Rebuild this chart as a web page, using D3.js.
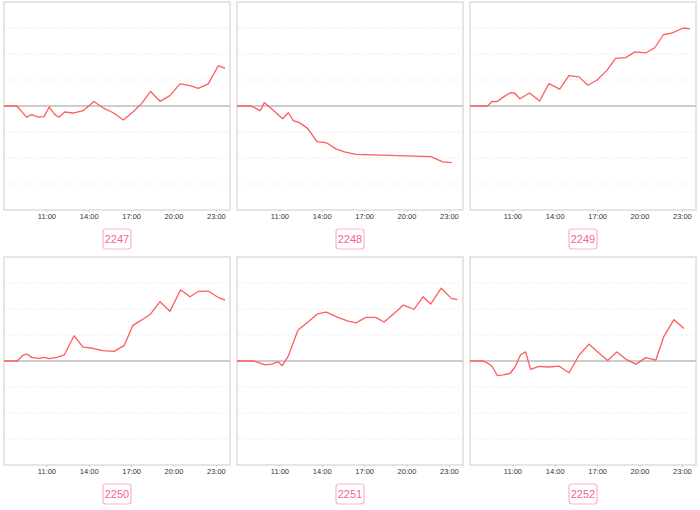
<!DOCTYPE html>
<html>
<head>
<meta charset="utf-8">
<script src="https://cdn.jsdelivr.net/npm/d3@7"></script>
<style>
  html, body { margin: 0; padding: 0; background: #fff; }
  svg { display: block; }
</style>
</head>
<body>
<svg id="chart" width="700" height="510"></svg>
<script>
// ---- data (time in decimal hours, value in relative units) ----
const titles = ["2247", "2248", "2249", "2250", "2251", "2252"];
const tickHours = [11, 14, 17, 20, 23];
const tickLabels = ["11:00", "14:00", "17:00", "20:00", "23:00"];

const times2247 = [8, 8.9, 9.6, 9.96, 10.43, 10.83, 11.2, 11.6, 11.9, 12.3, 12.9, 13.6, 14.37, 15.03, 15.74, 16.45, 17.15, 17.75, 18.38, 19.04, 19.75, 20.46, 21.17, 21.76, 22.46, 23.17, 23.65];
const values2247 = [0, 0, -0.43, -0.33, -0.43, -0.41, -0.04, -0.33, -0.43, -0.23, -0.27, -0.18, 0.17, -0.08, -0.26, -0.54, -0.22, 0.1, 0.56, 0.18, 0.4, 0.85, 0.78, 0.68, 0.85, 1.55, 1.45];

const times2248 = [8, 8.99, 9.65, 9.93, 10.41, 10.76, 11.23, 11.63, 11.99, 12.41, 13.0, 13.66, 14.37, 15.0, 15.6, 16.42, 18.2, 19.96, 21.73, 22.56, 23.2];
const values2248 = [0, 0, -0.18, 0.13, -0.09, -0.26, -0.49, -0.26, -0.56, -0.64, -0.86, -1.37, -1.42, -1.65, -1.76, -1.86, -1.89, -1.92, -1.95, -2.15, -2.18];

const times2249 = [8, 9.23, 9.58, 9.93, 10.4, 10.83, 11.16, 11.54, 12.22, 12.93, 13.59, 14.35, 15.0, 15.72, 16.35, 17.0, 17.68, 18.31, 19.02, 19.68, 20.44, 21.08, 21.69, 22.32, 23.1, 23.58];
const values2249 = [0, 0, 0.18, 0.17, 0.36, 0.5, 0.5, 0.28, 0.5, 0.19, 0.86, 0.65, 1.17, 1.12, 0.8, 1.0, 1.36, 1.83, 1.86, 2.08, 2.04, 2.24, 2.74, 2.81, 3.0, 2.97];

const times2250 = [8, 8.94, 9.32, 9.6, 9.96, 10.43, 10.83, 11.2, 11.73, 12.27, 12.96, 13.6, 14.28, 14.99, 15.79, 16.5, 17.11, 17.75, 18.38, 19.04, 19.75, 20.5, 21.17, 21.78, 22.46, 23.17, 23.65];
const values2250 = [0, 0, 0.21, 0.27, 0.14, 0.1, 0.14, 0.09, 0.14, 0.24, 0.97, 0.53, 0.49, 0.4, 0.37, 0.59, 1.36, 1.58, 1.81, 2.28, 1.91, 2.74, 2.47, 2.68, 2.69, 2.44, 2.35];

const times2251 = [8, 9.2, 9.98, 10.45, 10.9, 11.2, 11.63, 12.32, 13.03, 13.69, 14.32, 15.1, 15.81, 16.45, 17.11, 17.82, 18.41, 19.12, 19.78, 20.53, 21.17, 21.71, 22.46, 23.17, 23.6];
const values2251 = [0, 0, -0.15, -0.12, -0.03, -0.18, 0.19, 1.19, 1.5, 1.81, 1.88, 1.69, 1.54, 1.47, 1.68, 1.68, 1.5, 1.83, 2.15, 1.99, 2.47, 2.19, 2.8, 2.41, 2.36];

const times2252 = [8, 8.94, 9.25, 9.58, 9.93, 10.36, 10.83, 11.19, 11.58, 11.94, 12.29, 12.88, 13.54, 14.32, 15.01, 15.72, 16.42, 17.08, 17.75, 18.39, 19.09, 19.75, 20.46, 21.15, 21.73, 22.44, 23.15];
const values2252 = [0, 0, -0.08, -0.21, -0.56, -0.53, -0.48, -0.23, 0.24, 0.35, -0.32, -0.21, -0.23, -0.2, -0.45, 0.22, 0.65, 0.33, 0.02, 0.35, 0.05, -0.12, 0.13, 0.03, 0.95, 1.59, 1.25];

const seriesTimes = [times2247, times2248, times2249, times2250, times2251, times2252];
const seriesValues = [values2247, values2248, values2249, values2250, values2251, values2252];
const gridValues = [-3, -2, -1, 1, 2, 3];

// ---- layout ----
const colLefts = [4, 237, 470];
const rowTops = [2, 257];
const plotW = 226, plotH = 208;
const lineColor = "#ff5c5c";
const fontFamily = "'Liberation Sans', Arial, sans-serif";

const svg = d3.select("#chart");

const x = d3.scaleLinear().domain([8, 24]).range([0, plotW]);
const y = d3.scaleLinear().domain([-4, 4]).range([plotH, 0]);

titles.forEach((title, i) => {
  const col = i % 3, row = Math.floor(i / 3);
  const g = svg.append("g")
    .attr("transform", `translate(${colLefts[col]},${rowTops[row]})`);

  // grid lines
  g.selectAll("line.grid").data(gridValues).join("line")
    .attr("class", "grid")
    .attr("x1", 0).attr("x2", plotW)
    .attr("y1", d => y(d)).attr("y2", d => y(d))
    .attr("stroke", "#efefef")
    .attr("stroke-dasharray", "3,2")
    .attr("stroke-width", 1);

  // frame
  g.append("rect")
    .attr("x", 0).attr("y", 0)
    .attr("width", plotW).attr("height", plotH)
    .attr("fill", "none")
    .attr("stroke", "#dddddd")
    .attr("stroke-width", 1.5);

  // zero line
  g.append("line")
    .attr("x1", 0).attr("x2", plotW)
    .attr("y1", y(0)).attr("y2", y(0))
    .attr("stroke", "#bbbbbb")
    .attr("stroke-width", 1.5);

  // x axis
  const axis = d3.axisBottom(x)
    .tickValues(tickHours)
    .tickFormat((d, k) => tickLabels[k])
    .tickSize(2)
    .tickPadding(2);
  const ax = g.append("g")
    .attr("transform", `translate(0,${plotH})`)
    .call(axis);
  ax.select(".domain").remove();
  ax.selectAll(".tick line").attr("stroke", "#cccccc");
  ax.selectAll(".tick text")
    .attr("fill", "#333")
    .attr("font-size", "7.5px")
    .attr("font-family", fontFamily);

  // series line
  const pts = seriesTimes[i].map((t, k) => [t, seriesValues[i][k]]);
  g.append("path")
    .datum(pts)
    .attr("fill", "none")
    .attr("stroke", lineColor)
    .attr("stroke-width", 1.3)
    .attr("stroke-linejoin", "round")
    .attr("d", d3.line().x(d => x(d[0])).y(d => y(d[1])));

  // title badge
  const cx = plotW / 2;
  const by = plotH + 19;
  g.append("rect")
    .attr("x", cx - 14).attr("y", by)
    .attr("width", 28).attr("height", 20)
    .attr("rx", 3).attr("ry", 3)
    .attr("fill", "#fff")
    .attr("stroke", "#fbb3c7")
    .attr("stroke-width", 1.2);
  g.append("text")
    .attr("x", cx).attr("y", by + 10)
    .attr("text-anchor", "middle")
    .attr("dominant-baseline", "central")
    .attr("fill", "#f5648e")
    .attr("font-size", "11px")
    .attr("font-family", fontFamily)
    .text(title);
});
</script>
</body>
</html>
